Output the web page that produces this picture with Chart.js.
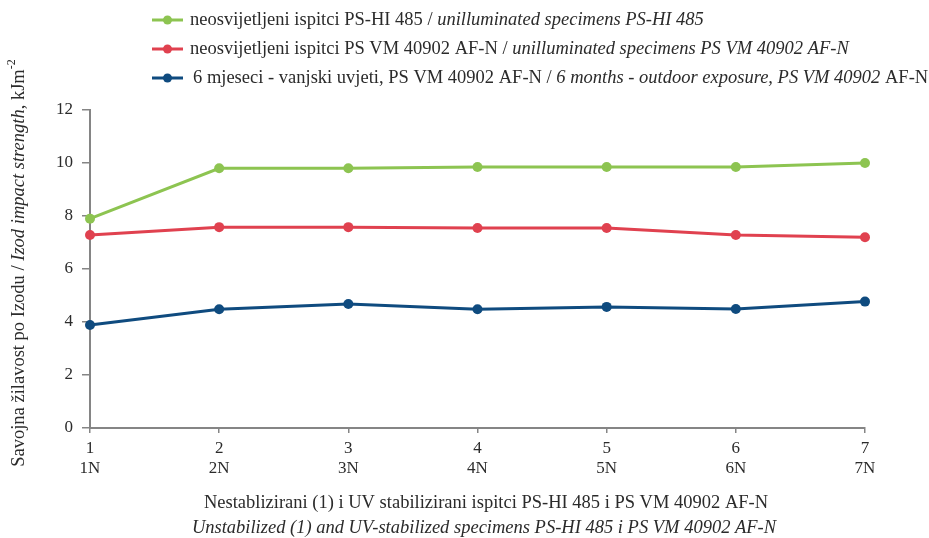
<!DOCTYPE html>
<html>
<head>
<meta charset="utf-8">
<script src="https://cdn.jsdelivr.net/npm/chart.js@4"></script>
<style>
  html, body { margin: 0; padding: 0; background: #fff; }
  #wrap { width: 929px; height: 538px; position: relative; }
</style>
</head>
<body>
<div id="wrap"><canvas id="chart" width="929" height="538"></canvas></div>
<script>
// data

const xLabels = [["1","1N"],["2","2N"],["3","3N"],["4","4N"],["5","5N"],["6","6N"],["7","7N"]];
const yTicks = [0, 2, 4, 6, 8, 10, 12];

const psHi485Unlit = [7.9, 9.8, 9.8, 9.85, 9.85, 9.85, 10.0];
const psVmUnlit = [7.28, 7.58, 7.58, 7.55, 7.55, 7.28, 7.2];
const psVmOutdoor = [3.89, 4.48, 4.68, 4.48, 4.57, 4.49, 4.77];

// legend / titles: [text, italic]
const legendTexts = [
    [["neosvijetljeni ispitci PS-HI 485 / ",false],["unilluminated specimens PS-HI 485",true]],
    [["neosvijetljeni ispitci PS VM 40902 AF-N / ",false],["unilluminated specimens PS VM 40902 AF-N",true]],
    [["6 mjeseci - vanjski uvjeti, PS VM 40902 AF-N / ",false],["6 months - outdoor exposure, PS VM 40902",true],[" AF-N",false]]
];
const yTitle = [["Savojna žilavost po Izodu / ",false],["Izod impact strength",true],[", kJm",false],["-2",false,"sup"]];
const xTitle1 = [["Nestablizirani (1) i UV stabilizirani ispitci PS-HI 485 i PS VM 40902 AF-N",false]];
const xTitle2 = [["Unstabilized (1) and UV-stabilized specimens PS-HI 485 i PS VM 40902 AF-N",true]];

const colors = ["#8dc451","#e0414f","#0f4b7f"];
const FONT = '"Liberation Serif", "Times New Roman", serif';
const TXT = "#2b2b2b";
const AXIS = "#858585";

// draws a line of mixed normal/italic text
const richText = (ctx, segs, x, y, size, align) => {
    const fontOf = (s) => `${s[1] ? "italic " : ""}${s[2]=="sup" ? size*0.65 : size}px ${FONT}`;
    let total = 0;
    segs.forEach(s => { ctx.font = fontOf(s); total += ctx.measureText(s[0]).width; });
    let cx = align == "center" ? x - total/2 : x;
    ctx.textBaseline = "middle";
    ctx.textAlign = "left";
    segs.forEach(s => {
        ctx.font = fontOf(s);
        ctx.fillText(s[0], cx, s[2]=="sup" ? y - size*0.4 : y);
        cx += ctx.measureText(s[0]).width;
    });
};

const textPlugin = {
    id: "richTexts",
    afterDraw(chart) {
        const ctx = chart.ctx;
        ctx.save();
        ctx.fillStyle = TXT;
        // legend
        const rows = [20, 49, 78];
        legendTexts.forEach((segs, i) => {
            const y = rows[i];
            ctx.strokeStyle = colors[i];
            ctx.lineWidth = 3;
            ctx.beginPath();
            ctx.moveTo(152, y);
            ctx.lineTo(183, y);
            ctx.stroke();
            ctx.fillStyle = colors[i];
            ctx.beginPath();
            ctx.arc(167.5, y, 4.5, 0, Math.PI*2);
            ctx.fill();
            ctx.fillStyle = TXT;
            richText(ctx, segs, i == 2 ? 193 : 190, y, 18.5, "left");
        });
        // x title
        richText(ctx, xTitle1, 486, 503, 18.5, "center");
        richText(ctx, xTitle2, 484, 528, 18.5, "center");
        // y title
        ctx.translate(19, 263);
        ctx.rotate(-Math.PI/2);
        richText(ctx, yTitle, 0, 0, 18.5, "center");
        ctx.restore();
    }
};

const makeSet = (label, data, color) => ({
    label, data,
    borderColor: color,
    backgroundColor: color,
    borderWidth: 3,
    pointRadius: 5,
    pointHoverRadius: 5,
    pointBorderWidth: 0,
    tension: 0
});

new Chart(document.getElementById("chart"), {
    type: "line",
    data: {
        labels: xLabels,
        datasets: [
            makeSet("PS-HI 485", psHi485Unlit, colors[0]),
            makeSet("PS VM 40902 AF-N", psVmUnlit, colors[1]),
            makeSet("6 months PS VM 40902 AF-N", psVmOutdoor, colors[2])
        ]
    },
    options: {
        responsive: false,
        animation: false,
        layout: { padding: { top: 110, right: 64, left: 0, bottom: 0 } },
        plugins: { legend: { display: false }, tooltip: { enabled: false }, title: { display: false } },
        scales: {
            x: {
                type: "category",
                offset: false,
                afterFit: (s) => { s.height = 110; },
                border: { color: AXIS, width: 2 },
                grid: { display: true, drawOnChartArea: false, drawTicks: true, tickLength: 5, color: AXIS, lineWidth: 1.5 },
                ticks: { color: TXT, padding: 6, maxRotation: 0, autoSkip: false, font: { family: FONT, size: 17, lineHeight: 1.15 } }
            },
            y: {
                min: 0, max: 12,
                afterFit: (s) => { s.width = 90; },
                afterBuildTicks: (s) => { s.ticks = yTicks.map(v => ({ value: v })); },
                border: { color: AXIS, width: 2 },
                grid: { display: true, drawOnChartArea: false, drawTicks: true, tickLength: 8, color: AXIS, lineWidth: 1.5 },
                ticks: { color: TXT, padding: 9, font: { family: FONT, size: 17 } }
            }
        }
    },
    plugins: [textPlugin]
});
</script>
</body>
</html>
